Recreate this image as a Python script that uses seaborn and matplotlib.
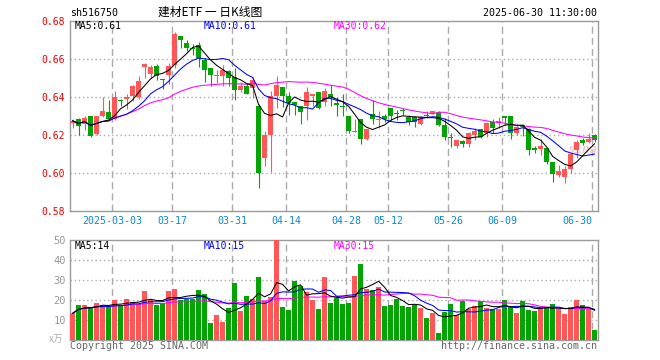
import numpy as np
import pandas as pd
import matplotlib
matplotlib.use("Agg")
import matplotlib.pyplot as plt
import seaborn as sns

# ---------------- data ----------------
opens = [0.6262, 0.6286, 0.6260, 0.6300, 0.6205, 0.6300, 0.6322, 0.6286, 0.6382, 0.6390,
         0.6407, 0.6400, 0.6558, 0.6520, 0.6565, 0.6497, 0.6518, 0.6567, 0.6720, 0.6684,
         0.6655, 0.6675, 0.6597, 0.6553, 0.6512, 0.6512, 0.6535, 0.6505, 0.6437, 0.6456,
         0.6446, 0.6354, 0.6081, 0.6200, 0.6405, 0.6450, 0.6405, 0.6375, 0.6353, 0.6350,
         0.6405, 0.6426, 0.6375, 0.6415, 0.6367, 0.6353, 0.6300, 0.6215, 0.6285, 0.6180,
         0.6311, 0.6280, 0.6300, 0.6340, 0.6312, 0.6330, 0.6297, 0.6297, 0.6257, 0.6301,
         0.6311, 0.6320, 0.6253, 0.6186, 0.6140, 0.6170, 0.6153, 0.6200, 0.6230, 0.6212,
         0.6270, 0.6262, 0.6295, 0.6300, 0.6212, 0.6250, 0.6230, 0.6126, 0.6128, 0.6130,
         0.6060, 0.5990, 0.5977, 0.6021, 0.6120, 0.6174, 0.6165, 0.6200]
highs = [0.6285, 0.6290, 0.6300, 0.6302, 0.6300, 0.6400, 0.6386, 0.6430, 0.6390, 0.6415,
         0.6465, 0.6510, 0.6578, 0.6570, 0.6575, 0.6497, 0.6580, 0.6740, 0.6720, 0.6700,
         0.6680, 0.6690, 0.6605, 0.6553, 0.6540, 0.6570, 0.6544, 0.6553, 0.6480, 0.6475,
         0.6505, 0.6365, 0.6220, 0.6432, 0.6510, 0.6450, 0.6425, 0.6375, 0.6355, 0.6455,
         0.6415, 0.6426, 0.6447, 0.6463, 0.6400, 0.6415, 0.6300, 0.6285, 0.6285, 0.6233,
         0.6385, 0.6325, 0.6310, 0.6340, 0.6332, 0.6340, 0.6305, 0.6299, 0.6300, 0.6325,
         0.6325, 0.6325, 0.6290, 0.6210, 0.6174, 0.6174, 0.6218, 0.6235, 0.6230, 0.6270,
         0.6283, 0.6295, 0.6295, 0.6300, 0.6260, 0.6258, 0.6235, 0.6140, 0.6177, 0.6130,
         0.6060, 0.6042, 0.6035, 0.6103, 0.6174, 0.6182, 0.6210, 0.6205]
lows = [0.6235, 0.6198, 0.6225, 0.6188, 0.6200, 0.6295, 0.6280, 0.6280, 0.6355, 0.6335,
        0.6380, 0.6390, 0.6500, 0.6500, 0.6490, 0.6442, 0.6470, 0.6555, 0.6658, 0.6640,
        0.6620, 0.6560, 0.6480, 0.6456, 0.6475, 0.6456, 0.6456, 0.6386, 0.6425, 0.6415,
        0.6395, 0.5921, 0.6037, 0.6007, 0.6340, 0.6348, 0.6305, 0.6305, 0.6260, 0.6280,
        0.6350, 0.6335, 0.6350, 0.6350, 0.6298, 0.6298, 0.6210, 0.6214, 0.6150, 0.6175,
        0.6260, 0.6237, 0.6270, 0.6280, 0.6278, 0.6305, 0.6253, 0.6240, 0.6250, 0.6289,
        0.6310, 0.6245, 0.6173, 0.6135, 0.6130, 0.6135, 0.6135, 0.6174, 0.6182, 0.6190,
        0.6212, 0.6235, 0.6253, 0.6177, 0.6200, 0.6195, 0.6095, 0.6107, 0.6095, 0.6047,
        0.5954, 0.5977, 0.5945, 0.5998, 0.6077, 0.6147, 0.6156, 0.6165]
closes = [0.6275, 0.6246, 0.6290, 0.6193, 0.6300, 0.6325, 0.6286, 0.6400, 0.6379, 0.6400,
          0.6456, 0.6486, 0.6575, 0.6560, 0.6512, 0.6488, 0.6565, 0.6730, 0.6700, 0.6658,
          0.6650, 0.6605, 0.6544, 0.6518, 0.6518, 0.6540, 0.6500, 0.6435, 0.6460, 0.6418,
          0.6490, 0.6000, 0.6200, 0.6405, 0.6463, 0.6405, 0.6370, 0.6358, 0.6323, 0.6425,
          0.6415, 0.6340, 0.6432, 0.6398, 0.6357, 0.6345, 0.6223, 0.6223, 0.6180, 0.6233,
          0.6285, 0.6285, 0.6282, 0.6300, 0.6310, 0.6328, 0.6270, 0.6270, 0.6293, 0.6299,
          0.6325, 0.6253, 0.6190, 0.6182, 0.6174, 0.6152, 0.6212, 0.6223, 0.6191, 0.6265,
          0.6235, 0.6275, 0.6292, 0.6212, 0.6240, 0.6240, 0.6121, 0.6123, 0.6140, 0.6060,
          0.5993, 0.6012, 0.6021, 0.6100, 0.6165, 0.6156, 0.6177, 0.6174]
volumes = [13.3, 17.3, 17.3, 16.7, 18.3, 17.3, 16.7, 20.0, 17.3, 20.5,
           19.0, 17.8, 24.5, 20.0, 17.5, 18.7, 24.5, 25.5, 20.0, 20.7,
           20.7, 25.0, 23.0, 8.5, 12.5, 9.0, 16.0, 28.5, 14.5, 22.0,
           20.5, 31.5, 19.5, 21.7, 50.0, 16.5, 15.0, 29.5, 27.0, 24.0,
           20.0, 15.5, 31.5, 18.5, 21.2, 18.0, 18.5, 32.0, 38.0, 25.3,
           25.0, 26.5, 17.0, 17.5, 20.5, 17.0, 16.5, 17.7, 15.8, 10.8,
           13.3, 3.7, 14.2, 18.0, 12.5, 19.5, 15.3, 17.0, 19.5, 16.2,
           15.3, 15.3, 20.0, 16.3, 13.7, 19.5, 15.0, 14.5, 15.8, 16.3,
           18.0, 15.3, 13.0, 16.3, 20.0, 17.5, 15.3, 5.0]
tick_index = [7, 17, 27, 36, 46, 53, 63, 72, 87]
tick_labels = ["2025-03-03", "03-17", "03-31", "04-14", "04-28", "05-12", "05-26", "06-09", "06-30"]
price_ticks = [0.58, 0.60, 0.62, 0.64, 0.66, 0.68]
vol_ticks = [10, 20, 30, 40, 50]

# ---------------- style ----------------
sns.set_theme(style="white")
plt.rcParams["font.family"] = ["DejaVu Sans Mono", "Noto Sans CJK SC"]
RED = "#ff5757"
GREEN = "#04a404"
GRID = "#aaaaaa"
FRAME = "#9a9a9a"

W, H = 660, 360
fig = plt.figure(figsize=(6.6, 3.6), dpi=100)
fig.patch.set_facecolor("white")

def axrect(l, t, r, b):
    return [l / W, 1 - b / H, (r - l) / W, (b - t) / H]

ax = fig.add_axes(axrect(70, 21, 598, 211))
ax2 = fig.add_axes(axrect(70, 240, 598, 340))

o = np.array(opens); h = np.array(highs); lo = np.array(lows); c = np.array(closes)
v = np.array(volumes)
n = len(c)
x = np.arange(n)
up = c >= o
cols = np.where(up, RED, GREEN)

df = pd.DataFrame({"x": x, "close": c, "vol": v})
for w in (5, 10, 30):
    df[f"ma{w}"] = df["close"].rolling(w, min_periods=1).mean()
    df[f"vma{w}"] = df["vol"].rolling(w, min_periods=1).mean()

XL = (-0.42, 87.55)
for a in (ax, ax2):
    a.set_xlim(*XL)
    a.set_facecolor("white")
    for s in a.spines.values():
        s.set_color(FRAME)
        s.set_linewidth(1.0)
    for ti in tick_index:
        a.axvline(ti - 0.42, color=GRID, lw=1.0, dashes=(5, 3), zorder=0)
    a.tick_params(length=0)

LW = 0.75
# price panel
ax.set_ylim(0.58, 0.68)
for p in price_ticks[1:-1]:
    ax.axhline(p, color=GRID, lw=1.0, dashes=(1, 2), zorder=0)
ax.vlines(x, lo, h, colors=cols, lw=0.8, zorder=2)
body_b = np.minimum(o, c)
body_h = np.maximum(np.abs(c - o), 0.0006)
ax.bar(x, body_h, bottom=body_b, width=0.84, color=cols, linewidth=0, zorder=3)
sns.lineplot(data=df, x="x", y="ma30", ax=ax, color="#ff00ff", lw=LW, zorder=4)
sns.lineplot(data=df, x="x", y="ma10", ax=ax, color="#0000ff", lw=LW, zorder=5)
sns.lineplot(data=df, x="x", y="ma5", ax=ax, color="black", lw=LW, zorder=6)
ax.set_yticks(price_ticks)
ax.set_yticklabels([f"{p:.2f}" for p in price_ticks], color="#ee0000", fontsize=7)
ax.tick_params(axis="y", pad=4)
ax.set_xticks([])
ax.set_xlabel(""); ax.set_ylabel("")
ax.text(582, 207, "sina", transform=None, fontsize=9, color="#f0cccc",
        fontstyle="italic", fontweight="bold", ha="center", va="baseline", zorder=1)

# volume panel
ax2.set_ylim(0, 50)
for t in vol_ticks[:-1]:
    ax2.axhline(t, color=GRID, lw=1.0, dashes=(1, 2), zorder=0)
ax2.bar(x, v, width=0.84, color=cols, linewidth=0, zorder=3)
sns.lineplot(data=df, x="x", y="vma30", ax=ax2, color="#ff00ff", lw=LW, zorder=4)
sns.lineplot(data=df, x="x", y="vma10", ax=ax2, color="#0000ff", lw=LW, zorder=5)
sns.lineplot(data=df, x="x", y="vma5", ax=ax2, color="black", lw=LW, zorder=6)
ax2.set_yticks(vol_ticks)
ax2.set_yticklabels([str(t) for t in vol_ticks], color="#999999", fontsize=7.5)
ax2.tick_params(axis="y", pad=3)
ax2.set_xticks([])
ax2.set_xlabel(""); ax2.set_ylabel("")

def ftext(px, py, s, **kw):
    fig.text(px / W, 1 - py / H, s, **kw)

# x date labels
for ti, lab in zip(tick_index, tick_labels):
    px = 70 + 6 * ti
    ha = "right" if ti == tick_index[-1] else "center"
    ftext(px, 221, lab, ha=ha, va="center", fontsize=7.2, color="#0a88d0")

# header
ftext(70, 13, "sh516750", ha="left", va="center", fontsize=7.2, color="black")
ftext(210, 12, "建材ETF 一 日K线图", ha="center", va="center", fontsize=8.5, color="black",
      family=["Noto Sans CJK SC", "DejaVu Sans"])
ftext(597, 13, "2025-06-30 11:30:00", ha="right", va="center", fontsize=7.2, color="black")

# MA legends
ftext(75, 26, "MA5:0.61", ha="left", va="center", fontsize=7, color="black")
ftext(204, 26, "MA10:0.61", ha="left", va="center", fontsize=7, color="#0000ff")
ftext(334, 26, "MA30:0.62", ha="left", va="center", fontsize=7, color="#ff00ff")
ftext(75, 246, "MA5:14", ha="left", va="center", fontsize=7, color="black")
ftext(204, 246, "MA10:15", ha="left", va="center", fontsize=7, color="#0000ff")
ftext(334, 246, "MA30:15", ha="left", va="center", fontsize=7, color="#ff00ff")

# footer
ftext(56, 339, "x万", ha="center", va="center", fontsize=7, color="#b0b0b0",
      family=["Noto Sans CJK SC", "DejaVu Sans"])
ftext(70, 346, "Copyright 2025 SINA.COM", ha="left", va="center", fontsize=7.2, color="#666666")
ftext(597, 346, "http://finance.sina.com.cn", ha="right", va="center", fontsize=7.2, color="#666666")

fig.savefig("out.png", dpi=100, facecolor="white")
